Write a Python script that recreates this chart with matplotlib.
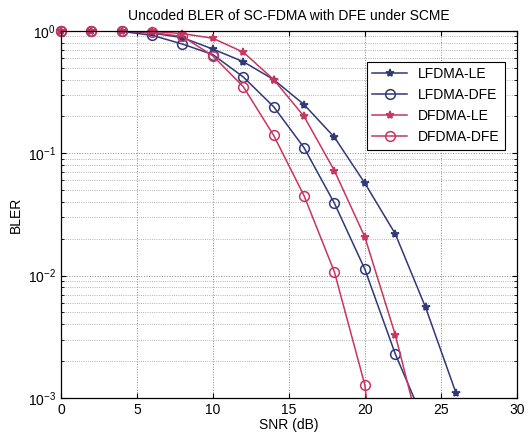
import matplotlib
matplotlib.use('Agg')
import matplotlib.pyplot as plt
from matplotlib.ticker import LogLocator, NullFormatter

plt.rcParams['font.family'] = ['Liberation Sans', 'DejaVu Sans']

snr = [0, 2, 4, 6, 8, 10, 12, 14, 16, 18, 20, 22, 24, 26]
lfdma_le = [1, 1, 1, 0.96, 0.88, 0.71, 0.56, 0.40, 0.25, 0.135, 0.057, 0.022, 0.0055, 0.0011]
lfdma_dfe = [1, 1, 0.99, 0.92, 0.78, 0.64, 0.42, 0.24, 0.111, 0.039, 0.0113, 0.0023, 0.0006]
dfdma_le = [1, 1, 1, 0.99, 0.95, 0.87, 0.67, 0.40, 0.20, 0.072, 0.0207, 0.0033, 0.00035]
dfdma_dfe = [1, 1, 1, 0.97, 0.90, 0.625, 0.35, 0.14, 0.045, 0.0107, 0.00128, 0.00001]

blue = '#2f3878'
red = '#c73560'

fig = plt.figure(figsize=(5.3, 4.41), dpi=100)
ax = fig.add_axes([0.115, 0.0975, 0.86, 0.8325])

series = [
    (lfdma_le, blue, '*', 'LFDMA-LE'),
    (lfdma_dfe, blue, 'o', 'LFDMA-DFE'),
    (dfdma_le, red, '*', 'DFDMA-LE'),
    (dfdma_dfe, red, 'o', 'DFDMA-DFE'),
]
for vals, col, mk, lab in series:
    x = snr[:len(vals)]
    ms = 6 if mk == '*' else 7
    mfc = col if mk == '*' else 'none'
    ax.semilogy(x, vals, '-', color=col, lw=1.1)
    # markers not clipped at the frame (only those inside the range)
    xs = [a for a, v in zip(x, vals) if v >= 1e-3]
    vs = [v for v in vals if v >= 1e-3]
    ax.semilogy(xs, vs, ls='none', marker=mk, color=col, ms=ms, mfc=mfc, mew=1.1, clip_on=False)
    ax.plot([], [], '-', marker=mk, color=col, lw=1.1, ms=ms, mfc=mfc, mew=1.1, label=lab)

ax.set_xlim(0, 30)
ax.set_ylim(1e-3, 1)
ax.set_xticks([0, 5, 10, 15, 20, 25, 30])
ax.yaxis.set_minor_locator(LogLocator(base=10, subs=range(2, 10)))
ax.yaxis.set_minor_formatter(NullFormatter())

ax.grid(True, which='major', ls=':', color='#8a8a8a', lw=0.7)
ax.grid(True, which='minor', axis='y', ls=':', color='#9a9a9a', lw=0.6)
ax.tick_params(which='both', direction='in', top=True, right=True, labelsize=10)
for s in ax.spines.values():
    s.set_color('black')
    s.set_linewidth(0.9)

ax.set_xlabel('SNR (dB)', fontsize=10, labelpad=1)
ax.set_ylabel('BLER', fontsize=10)
ax.set_title('Uncoded BLER of SC-FDMA with DFE under SCME', fontsize=10, pad=8)

leg = ax.legend(loc='upper right', bbox_to_anchor=(0.99, 0.935), fontsize=10,
                fancybox=False, edgecolor='black', framealpha=1, handlelength=2.5)
leg.get_frame().set_linewidth(0.8)

plt.savefig('out.png', dpi=100)
